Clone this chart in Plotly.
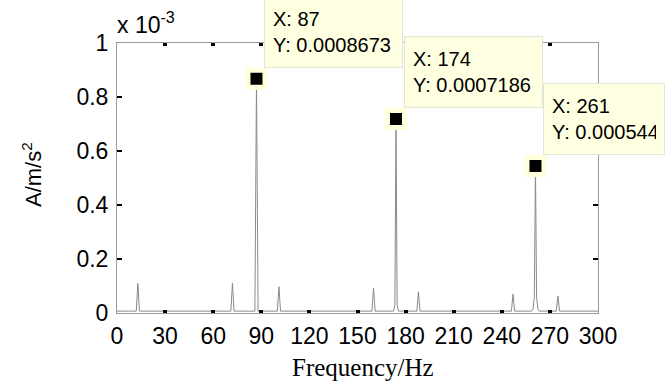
import plotly.graph_objects as go

# Spectrum polyline (Hz, m/s^2)
freq = [0, 12, 13, 14, 71, 72, 73, 86, 87, 88, 100, 101, 102, 159, 160, 161,
        172.5, 173.3, 174, 174.7, 175.5, 187, 188, 189, 246, 247, 248,
        258.5, 259.5, 260.3, 261, 261.7, 262.5, 263.5, 274, 275, 276, 300]
amp = [0.000007, 0.000007, 0.000110, 0.000007, 0.000007, 0.000110, 0.000007,
       0.000007, 0.0008673, 0.000007, 0.000007, 0.0000975, 0.000007,
       0.000007, 0.000092, 0.000007,
       0.000007, 0.000030, 0.0007186, 0.000030, 0.000007,
       0.000007, 0.000079, 0.000007, 0.000007, 0.000070, 0.000007,
       0.000007, 0.000015, 0.000060, 0.000544, 0.000060, 0.000015, 0.000007,
       0.000007, 0.000063, 0.000007, 0.000007]

# Data tips
tip_x = [87, 174, 261]
tip_y = [0.0008673, 0.0007186, 0.000544]
tip_text = ["X: 87<br>Y: 0.0008673", "X: 174<br>Y: 0.0007186", "X: 261<br>Y: 0.000544"]
tip_w = [121, 121, 104]

x_ticks = [0, 30, 60, 90, 120, 150, 180, 210, 240, 270, 300]
y_ticks = [0, 0.0002, 0.0004, 0.0006, 0.0008, 0.001]
y_ticklabels = ["0", "0.2", "0.4", "0.6", "0.8", "1"]

fig = go.Figure()
fig.add_trace(go.Scatter(x=freq, y=amp, mode="lines",
                         line=dict(color="#8a8a8a", width=1), showlegend=False))
fig.add_trace(go.Scatter(x=tip_x, y=tip_y, mode="markers",
                         marker=dict(symbol="square", size=17, color="black",
                                     line=dict(color="#FFFFDC", width=5)),
                         showlegend=False))

annotations = []
for x, y, t, w in zip(tip_x, tip_y, tip_text, tip_w):
    annotations.append(dict(x=x, y=y, xref="x", yref="y", text=t, showarrow=False,
                            xanchor="left", yanchor="bottom", xshift=8, yshift=11,
                            width=w, height=54, align="left", valign="middle",
                            bgcolor="#FFFFE1", bordercolor="#E4E4D6", borderwidth=1,
                            borderpad=8,
                            font=dict(family="Liberation Sans, Arial", size=20, color="black")))

annotations.append(dict(x=0, y=1, xref="paper", yref="paper", text="x 10<sup>-3</sup>",
                        showarrow=False, xanchor="left", yanchor="middle", xshift=-2, yshift=20,
                        font=dict(family="Liberation Sans, Arial", size=23, color="black")))
annotations.append(dict(x=(32 - 117) / 481, y=(313 - 175) / 270, xref="paper", yref="paper",
                        text="A/m/s<sup>2</sup>", textangle=-90, showarrow=False,
                        xanchor="center", yanchor="middle",
                        font=dict(family="Liberation Sans, Arial", size=22, color="black")))
annotations.append(dict(x=(363 - 117) / 481, y=(313 - 367) / 270, xref="paper", yref="paper",
                        text="Frequency/Hz", showarrow=False,
                        xanchor="center", yanchor="middle",
                        font=dict(family="Liberation Serif, Times New Roman", size=25, color="black")))

fig.update_layout(
    width=672, height=381,
    margin=dict(l=117, r=74, t=43, b=68),
    paper_bgcolor="white", plot_bgcolor="white",
    annotations=annotations,
    xaxis=dict(range=[0, 300], tickvals=x_ticks, showgrid=False, zeroline=False,
               showline=True, linecolor="#9a9a9a", linewidth=1, mirror="ticks",
               ticks="inside", ticklen=3, tickwidth=4, tickcolor="black",
               tickfont=dict(family="Liberation Sans, Arial", size=23, color="black"),
               ticklabelstandoff=2),
    yaxis=dict(range=[0, 0.001], tickvals=y_ticks, ticktext=y_ticklabels, showgrid=False,
               zeroline=False, showline=True, linecolor="#9a9a9a", linewidth=1, mirror="ticks",
               ticks="inside", ticklen=5, tickwidth=2, tickcolor="black",
               tickfont=dict(family="Liberation Sans, Arial", size=23, color="black"),
               ticklabelstandoff=3),
)

fig.write_html("out.html")
